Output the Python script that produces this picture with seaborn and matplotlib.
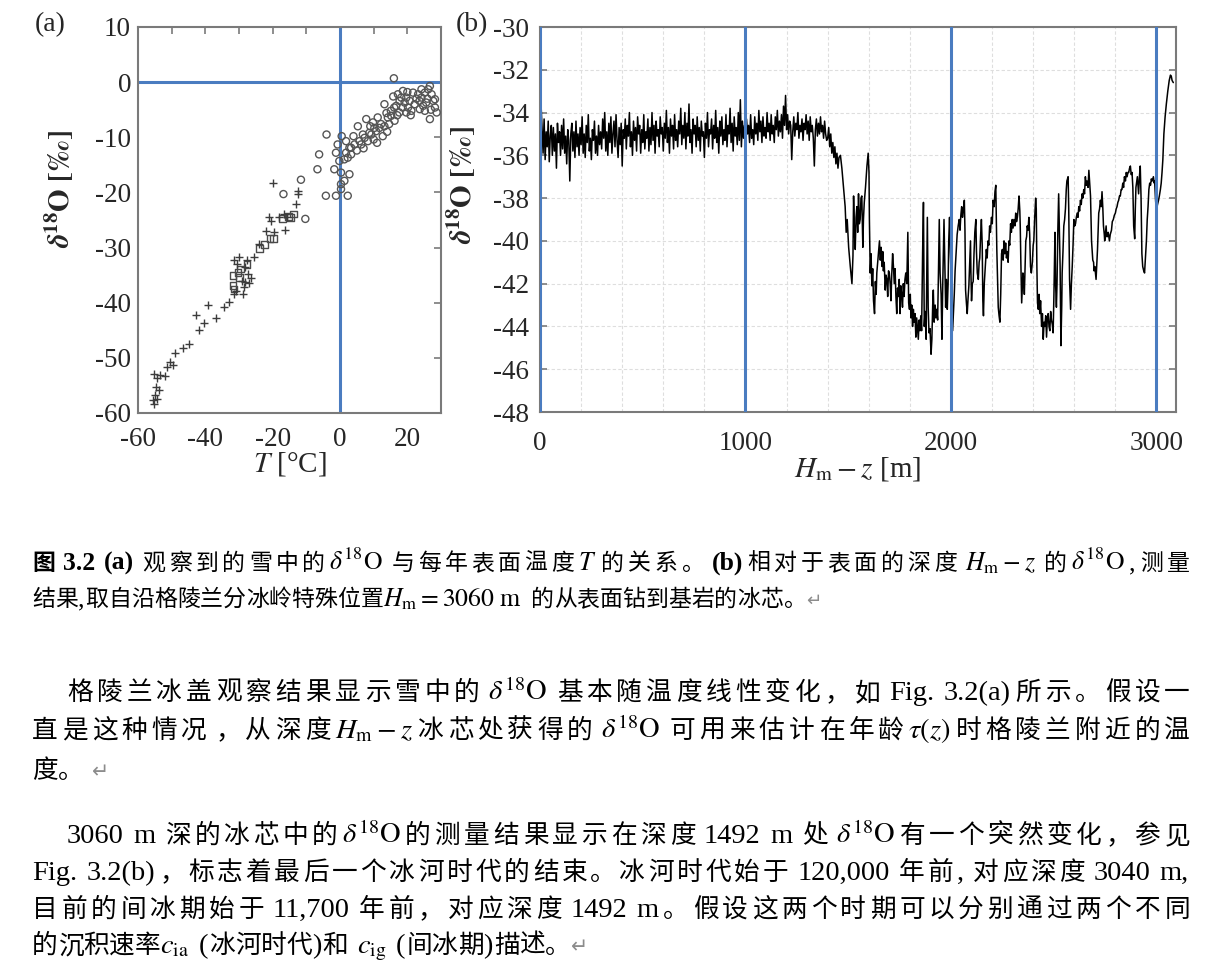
import numpy as np
import pandas as pd
import seaborn as sns
import matplotlib.pyplot as plt
from matplotlib.ticker import MultipleLocator

sns.set_style("white")
plt.rcParams['font.family'] = ['Liberation Serif', 'Noto Sans CJK SC', 'DejaVu Sans']
plt.rcParams['mathtext.fontset'] = 'stix'
plt.rcParams['axes.unicode_minus'] = False

W, H = 1223, 973
BLUE = '#4a7cc0'
GREY = '#7a7a7a'

# ---- panel (a): d18O in snow vs annual surface temperature ----
circle_t = [16.0, 17.2, 18.7, 19.7, 20.7, 21.7, 23.2, 24.2, 25.2, 26.2, 26.7, 27.2, 27.7, 28.2, 28.7,
            26.7, 25.2, 23.7, 22.2, 18.6, 17.6, 16.1, 15.1, 13.2, 14.2, 12.2, 11.2, 10.2, 8.7, 7.8,
            7.3, 5.8, 5.3, 4.3, 2.8, 1.8, 1.3, 2.3, 3.3, 6.3, 8.3, 9.3, 10.7, 11.7, 13.2, 14.6, 16.2,
            15.2, 16.7, 19.2, 20.2, 21.2, 17.7, 19.7, 23.6, 25.6, 28.2, 24.2,
            0.5, -0.7, -1.2, -0.2, 0.3, 1.3, 2.8, -1.7, 0.3, -1.2, 2.3, 0.3, 1.8, 3.3,
            -4.0, -6.2, -6.7, -4.2, -11.6, -16.8, -10.3,
            9.8, 12.7, 14.0, 10.0, 7.0, 5.0, 4.0, 11.0, 18.2, 20.0, 22.7, 24.7, 26.0, 27.0, 15.8,
            17.0, 13.8, 9.0, 6.8, 21.0]
circle_d = [0.7, -2.2, -1.6, -2.8, -3.4, -1.9, -2.2, -2.8, -1.9, -1.3, -0.7, -2.2, -3.4, -4.6, -5.5,
            -6.7, -5.2, -4.9, -4.0, -4.6, -5.5, -4.6, -5.2, -4.0, -6.4, -7.6, -6.4, -8.3, -9.2, -6.7,
            -10.1, -10.7, -8.0, -11.3, -11.9, -12.8, -14.0, -13.7, -13.1, -11.3, -10.7, -9.5, -8.9, -8.3, -8.0, -7.6, -7.0,
            -6.1, -4.3, -3.7, -4.6, -5.2, -3.4, -5.5, -3.4, -3.7, -3.1, -1.3,
            -9.8, -11.3, -12.8, -14.3, -16.4, -17.9, -16.7, -15.8, -19.4, -20.6, -20.6, -18.5, -10.7, -11.9,
            -9.5, -13.1, -15.8, -20.6, -17.7, -20.3, -24.8,
            -7.3, -9.8, -9.0, -10.4, -12.0, -12.4, -9.8, -11.0, -2.8, -1.8, -3.0, -4.3, -3.0, -5.0, -2.6,
            -6.0, -5.6, -8.0, -9.5, -6.0]

cross_t = [-19.8, -12.4, -12.4, -13.0, -16.6, -15.6, -18.1, -20.4, -21.1, -16.4, -19.6, -22.1, -24.1,
           -25.6, -27.6, -30.0, -31.5, -28.1, -27.4, -28.1, -31.0, -28.6, -31.5, -33.0, -34.6, -39.2,
           -42.7, -36.8, -40.3, -41.8, -45.0, -46.5, -49.0, -50.6, -49.6, -51.4, -51.9, -53.4, -54.4,
           -55.2, -54.6, -54.9, -55.4, -55.2, -54.4, -53.9, -30.5, -29.0, -27.0, -28.8, -26.5]
cross_d = [-18.2, -19.7, -20.3, -22.1, -23.9, -24.5, -24.4, -25.1, -24.5, -26.8, -27.2, -27.0, -29.3,
           -31.7, -32.3, -31.7, -32.3, -33.6, -34.8, -36.3, -37.8, -37.2, -38.4, -39.9, -40.7, -40.5,
           -42.2, -42.8, -43.7, -45.0, -47.4, -48.3, -49.2, -50.7, -51.3, -51.6, -53.3, -53.1, -53.7,
           -52.9, -55.2, -56.7, -57.7, -58.4, -57.4, -55.8, -33.0, -36.0, -36.5, -38.5, -35.5]

square_t = [-15.4, -14.6, -13.8, -19.8, -20.8, -22.4, -23.8, -31.8, -29.9, -30.3, -31.8, -31.5, -29.5, -27.6, -17.1]
square_d = [-24.4, -24.5, -23.9, -28.4, -28.4, -29.5, -30.1, -35.1, -35.4, -34.5, -36.9, -37.5, -33.9, -33.1, -24.8]

# ---- panel (b): d18O along the ice core, depth below surface ----
HOLOCENE_STEP = 5  # m between samples of the upper part
holocene_o18 = [
    -36.9, -33.6, -34.8, -35.9, -34.3, -36.2, -34.9, -35.6, -34.4, -36.3, -35.1, -34.6, -36.0, -34.7, -35.8, -35.0, -36.6, -34.5, -35.4, -34.9,
    -36.0, -34.6, -35.7, -34.3, -35.9, -35.1, -36.4, -34.8, -35.3, -37.2, -35.0, -34.5, -35.8, -34.9, -36.1, -34.4, -35.6, -35.0, -36.0, -34.7,
    -35.5, -34.2, -35.9, -35.0, -36.1, -34.6, -35.4, -34.1, -35.8, -35.2, -36.2, -34.8, -35.3, -34.4, -35.9, -35.1, -36.0, -34.6, -35.5, -34.9,
    -35.7, -34.3, -35.2, -34.0, -35.8, -34.9, -36.0, -34.5, -35.4, -34.2, -35.9, -35.0, -34.4, -35.6, -34.1, -35.3, -36.1, -34.7, -35.5, -34.5,
    -36.5, -34.8, -35.2, -34.3, -35.7, -34.6, -35.1, -34.0, -35.6, -34.9, -36.0, -34.4, -35.3, -34.7, -35.8, -34.2, -35.0, -34.6, -35.9, -34.8,
    -35.4, -34.1, -35.7, -34.9, -35.2, -34.3, -35.8, -34.7, -35.5, -34.0, -35.3, -34.6, -35.9, -34.4, -35.1, -34.8, -35.6, -34.2, -35.0, -34.7,
    -35.8, -34.5, -35.2, -33.9, -35.4, -34.7, -35.9, -34.3, -35.1, -34.6, -35.7, -34.1, -35.3, -34.8, -35.6, -34.4, -35.0, -33.8, -35.5, -34.6,
    -35.2, -34.0, -35.7, -34.5, -35.1, -33.6, -35.4, -34.8, -35.9, -34.3, -35.0, -34.6, -35.6, -34.2, -35.3, -34.7, -35.8, -34.4, -35.1, -34.9,
    -36.1, -34.5, -35.2, -34.0, -35.6, -34.8, -35.0, -34.3, -35.7, -34.6, -35.2, -33.9, -35.4, -34.7, -35.9, -34.4, -35.1, -34.2, -35.5, -34.8,
    -35.3, -34.1, -35.6, -34.6, -35.0, -33.8, -35.4, -34.5, -35.8, -34.2, -35.1, -34.7, -35.5, -34.0, -35.3, -33.4, -35.6, -34.4, -35.2, -34.6,
    -35.7, -34.3, -35.0, -34.6, -35.4, -34.1, -35.2, -34.8, -35.5, -34.2, -35.0, -34.5, -35.3, -33.9, -34.9, -34.4, -35.4, -34.2, -35.1, -34.7,
    -35.2, -34.0, -34.9, -34.5, -35.3, -34.1, -35.0, -34.6, -35.4, -34.2, -34.8, -33.9, -35.1, -34.4, -34.9, -34.1, -35.2, -33.7, -34.6, -33.2,
    -34.8, -34.1, -35.0, -34.4, -34.6, -36.2, -34.9, -34.2, -35.1, -34.5, -34.8, -34.0, -35.2, -34.6, -34.9, -34.3, -35.3, -34.5, -34.8, -34.1,
    -35.0, -34.4, -35.3, -34.2, -34.9, -34.6, -35.2, -36.5, -34.8, -34.3, -35.1, -34.5, -35.0, -34.2, -34.9, -34.6, -35.2, -34.4, -35.0, -35.3,
    -35.2, -34.7, -35.6, -35.0, -35.9, -35.4, -36.1, -35.6, -36.4, -35.9, -36.6, -36.1,
]
glacial_depth = [
    1462, 1469, 1477, 1485, 1490, 1495, 1502, 1510, 1518, 1523,
    1526, 1530, 1534, 1538, 1542, 1546, 1550, 1554, 1558, 1562,
    1566, 1571, 1574, 1578, 1584, 1591, 1597, 1601, 1603, 1607,
    1611, 1615, 1619, 1623, 1628, 1632, 1636, 1639, 1645, 1652,
    1656, 1660, 1665, 1668, 1671, 1675, 1680, 1684, 1688, 1692,
    1696, 1700, 1704, 1708, 1712, 1716, 1720, 1724, 1728, 1732,
    1736, 1740, 1744, 1748, 1752, 1756, 1760, 1764, 1768, 1772,
    1776, 1780, 1785, 1790, 1794, 1798, 1802, 1805, 1809, 1813,
    1817, 1821, 1825, 1829, 1833, 1837, 1841, 1845, 1849, 1853,
    1857, 1862, 1866, 1870, 1874, 1879, 1882, 1885, 1889, 1893,
    1898, 1903, 1907, 1911, 1914, 1918, 1923, 1927, 1931, 1935,
    1939, 1943, 1947, 1952, 1956, 1960, 1966, 1970, 1974, 1978,
    1982, 1986, 1989, 1993, 1997, 2001, 2004, 2008, 2012, 2016,
    2020, 2024, 2030, 2035, 2040, 2044, 2048, 2052, 2056, 2060,
    2065, 2068, 2071, 2075, 2079, 2083, 2087, 2091, 2095, 2097,
    2100, 2104, 2108, 2112, 2116, 2121, 2124, 2128, 2133, 2137,
    2140, 2144, 2148, 2152, 2155, 2158, 2162, 2168, 2172, 2176,
    2180, 2184, 2188, 2192, 2197, 2201, 2205, 2210, 2214, 2218,
    2220, 2223, 2227, 2230, 2234, 2238, 2242, 2246, 2250, 2254,
    2258, 2262, 2266, 2270, 2274, 2278, 2282, 2286, 2290, 2294,
    2298, 2302, 2306, 2311, 2315, 2319, 2323, 2327, 2331, 2335,
    2337, 2340, 2344, 2347, 2350, 2354, 2357, 2361, 2364, 2368,
    2371, 2375, 2379, 2383, 2387, 2391, 2396, 2400, 2403, 2407,
    2412, 2415, 2418, 2421, 2425, 2429, 2432, 2436, 2441, 2445,
    2449, 2453, 2457, 2461, 2465, 2469, 2473, 2477, 2481, 2485,
    2489, 2493, 2497, 2501, 2506, 2509, 2513, 2516, 2520, 2524,
    2527, 2531, 2535, 2539, 2541, 2545, 2549, 2553, 2557, 2561,
    2564, 2570, 2573, 2577, 2582, 2586, 2590, 2594, 2598, 2602,
    2606, 2610, 2614, 2618, 2622, 2626, 2630, 2634, 2638, 2642,
    2646, 2650, 2654, 2658, 2662, 2667, 2671, 2675, 2679, 2684,
    2688, 2690, 2694, 2696, 2700, 2706, 2709, 2713, 2716, 2719,
    2723, 2727, 2731, 2735, 2739, 2742, 2746, 2748, 2752, 2755,
    2758, 2761, 2765, 2771, 2775, 2781, 2785, 2790, 2795, 2800,
    2804, 2808, 2812, 2816, 2820, 2824, 2828, 2832, 2836, 2840,
    2844, 2849, 2853, 2857, 2861, 2865, 2869, 2873, 2877, 2881,
    2885, 2889, 2894, 2897, 2900, 2904, 2907, 2910, 2913, 2917,
    2921, 2925, 2929, 2933, 2938, 2942, 2946, 2951, 2955, 2959,
    2963, 2967, 2971, 2975, 2979, 2985, 2989, 2991, 2995, 2999,
    3005, 3010, 3014, 3019, 3023, 3027, 3031, 3036, 3042, 3048,
    3055, 3062, 3068, 3072, 3076, 3082,
]
glacial_o18 = [
    -36.0, -36.6, -37.5, -38.4, -39.6, -39.0, -40.3, -41.2, -42.0, -40.7,
    -37.9, -39.5, -40.4, -38.9, -38.4, -39.6, -37.8, -39.2, -39.0, -38.0,
    -37.9, -40.3, -39.0, -38.2, -37.5, -36.5, -35.9, -36.8, -39.0, -41.5,
    -40.6, -42.1, -41.3, -42.8, -43.4, -41.9, -42.5, -41.5, -40.8, -40.0,
    -40.9, -40.3, -41.2, -40.5, -41.4, -41.0, -42.3, -41.6, -41.8, -42.6,
    -41.4, -41.5, -42.0, -42.8, -41.5, -40.6, -41.2, -42.0, -41.3, -42.6,
    -43.4, -42.2, -42.6, -41.8, -43.4, -42.1, -42.5, -43.1, -42.0, -42.6,
    -41.8, -41.5, -42.0, -39.6, -42.9, -43.2, -42.5, -43.6, -43.0, -44.0,
    -43.2, -43.8, -43.4, -44.5, -43.6, -44.1, -44.6, -43.7, -44.2, -43.5,
    -44.2, -40.5, -38.2, -44.0, -43.3, -44.6, -41.5, -38.9, -43.1, -44.3,
    -44.1, -45.3, -44.6, -43.0, -42.3, -43.8, -43.0, -43.6, -43.2, -43.7,
    -41.5, -39.0, -41.5, -42.5, -44.6, -42.0, -39.0, -41.0, -43.1, -41.8,
    -43.2, -42.0, -40.0, -38.9, -40.5, -41.8, -43.0, -44.2, -43.4, -42.5,
    -41.4, -40.7, -39.7, -39.3, -39.0, -39.5, -38.8, -38.4, -38.9, -38.6,
    -38.1, -39.5, -42.3, -42.9, -43.4, -42.7, -42.1, -41.0, -40.0, -41.5,
    -42.8, -42.0, -41.9, -40.6, -39.6, -39.0, -40.5, -41.5, -41.8, -41.0,
    -40.8, -39.8, -39.0, -40.2, -42.8, -43.5, -42.0, -41.0, -40.4, -40.8,
    -40.0, -40.2, -39.3, -39.6, -38.9, -39.2, -38.1, -38.4, -37.7, -37.4,
    -38.5, -40.4, -42.0, -43.1, -43.5, -43.8, -42.5, -40.6, -40.4, -40.9,
    -40.0, -40.6, -40.1, -40.8, -40.5, -41.0, -40.0, -40.2, -39.2, -39.6,
    -39.0, -39.4, -39.0, -39.3, -38.7, -39.1, -38.9, -38.5, -37.9, -38.6,
    -39.3, -41.0, -42.9, -42.2, -41.5, -41.8, -42.5, -41.0, -40.0, -39.8,
    -39.3, -39.5, -38.9, -39.7, -41.2, -41.5, -41.0, -40.2, -40.0, -39.0,
    -38.0, -38.5, -41.2, -42.9, -43.2, -42.5, -43.4, -42.8, -44.0, -43.4,
    -44.6, -43.8, -44.0, -43.5, -44.5, -43.6, -43.4, -44.0, -44.2, -43.3,
    -43.7, -43.9, -44.3, -42.5, -39.6, -42.0, -43.1, -42.0, -39.5, -37.8,
    -39.3, -41.2, -44.9, -43.0, -41.5, -40.5, -39.3, -39.0, -38.5, -37.6,
    -37.2, -37.0, -38.5, -41.8, -43.2, -42.0, -41.2, -40.2, -39.0, -39.3,
    -39.2, -38.9, -38.7, -38.9, -38.4, -38.6, -38.1, -38.3, -37.8, -38.0,
    -37.6, -37.8, -37.0, -37.4, -37.2, -37.5, -36.7, -37.3, -37.9, -40.0,
    -40.6, -40.9, -41.0, -41.4, -41.2, -41.8, -41.2, -40.4, -39.5, -38.7,
    -38.5, -38.1, -38.4, -37.7, -38.5, -39.3, -39.7, -40.0, -39.6, -39.3,
    -39.8, -39.8, -39.6, -40.0, -39.7, -39.5, -39.1, -39.0, -38.8, -38.7,
    -38.5, -38.4, -38.2, -38.1, -37.9, -37.9, -37.6, -37.6, -37.3, -37.5,
    -37.0, -37.2, -36.8, -37.0, -36.8, -36.8, -36.6, -36.5, -36.9, -36.8,
    -37.5, -39.3, -39.9, -38.5, -37.5, -37.2, -37.0, -37.4, -37.8, -37.0,
    -36.5, -38.0, -40.6, -41.2, -41.4, -41.5, -40.8, -40.0, -39.0, -38.4,
    -37.6, -37.3, -37.4, -37.1, -37.2, -37.0, -37.3, -37.2, -38.0, -38.6,
    -38.3, -38.1, -37.9, -37.6, -37.3, -36.8, -36.2, -35.0, -34.2, -33.6,
    -33.0, -32.5, -32.25, -32.3, -32.5, -32.6,
]

# ---- text of the page ----
D18O = r'$\delta^{18}\mathrm{O}$'
HMZ = r'$H_\mathrm{m}-z$'
caption = [
    ([('图 3.2 (a)', 'bold'), (' 观察到的雪中的', 'txt'), (D18O, 'math'), (' 与每年表面温度', 'txt'),
      (r'$T$', 'math'), ('的关系。 ', 'txt'), ('(b)', 'bold'), ('相对于表面的深度 ', 'txt'),
      (HMZ, 'math'), (' 的', 'txt'), (D18O, 'math'), (',测量', 'txt')], 570, 32, 1190),
    ([('结果,取自沿格陵兰分冰岭特殊位置', 'txt'), (r'$H_\mathrm{m}=3060\ \mathrm{m}$', 'math'),
      (' 的从表面钻到基岩的冰芯。', 'txt'), ('↵', 'mark')], 606, 32, None),
]
body = [
    ([('格陵兰冰盖观察结果显示雪中的 ', 'txt'), (D18O, 'math'),
      (' 基本随温度线性变化，如 Fig. 3.2(a)所示。假设一', 'txt')], 700, 67, 1190),
    ([('直是这种情况 ，从深度', 'txt'), (HMZ, 'math'), ('冰芯处获得的 ', 'txt'), (D18O, 'math'),
      (' 可用来估计在年龄', 'txt'), (r'$\tau(z)$', 'math'), ('时格陵兰附近的温', 'txt')], 738, 32, 1190),
    ([('度。 ', 'txt'), ('↵', 'mark')], 778, 32, None),
    ([('3060 m 深的冰芯中的', 'txt'), (D18O, 'math'), ('的测量结果显示在深度 1492 m 处 ', 'txt'),
      (D18O, 'math'), ('有一个突然变化，参见', 'txt')], 843, 67, 1190),
    ([('Fig. 3.2(b)，标志着最后一个冰河时代的结束。冰河时代始于 120,000 年前, 对应深度 3040 m,', 'txt')],
     880, 32, 1190),
    ([('目前的间冰期始于 11,700 年前，对应深度 1492 m。假设这两个时期可以分别通过两个不同', 'txt')],
     917, 32, 1190),
    ([('的沉积速率', 'txt'), (r'$c_\mathrm{ia}$', 'math'), (' (冰河时代)和 ', 'txt'),
      (r'$c_\mathrm{ig}$', 'math'), (' (间冰期)描述。', 'txt'), ('↵', 'mark')], 953, 32, None),
]

fig = plt.figure(figsize=(W / 100, H / 100), dpi=100)
fig.patch.set_facecolor('white')


def style_spines(ax):
    for sp in ax.spines.values():
        sp.set_color(GREY)
        sp.set_linewidth(1.5)
        sp.set_visible(True)


# panel (a)
ax_a = fig.add_axes([138 / W, 1 - 413 / H, 303 / W, 386 / H])
ax_a.axhline(0, color=BLUE, lw=2.2, zorder=1)
ax_a.axvline(0, color=BLUE, lw=2.2, zorder=1)
sns.scatterplot(x=circle_t, y=circle_d, marker='o', s=26, facecolor='none',
                edgecolor='#555555', linewidth=1.0, ax=ax_a, zorder=3)
sns.scatterplot(x=square_t, y=square_d, marker='s', s=24, facecolor='none',
                edgecolor='#4a4a4a', linewidth=1.0, ax=ax_a, zorder=3)
sns.scatterplot(x=cross_t, y=cross_d, marker='+', s=36, color='#3c3c3c',
                linewidth=1.0, ax=ax_a, zorder=3)
ax_a.set_xlim(-60, 30)
ax_a.set_ylim(-60, 10)
ax_a.set_xticks([-60, -40, -20, 0, 20])
ax_a.xaxis.set_minor_locator(MultipleLocator(10))
ax_a.set_yticks(np.arange(-60, 11, 10))
ax_a.tick_params(which='both', direction='in', top=True, right=True, length=5,
                 color=GREY, width=1.2, labelsize=19.5)
ax_a.tick_params(axis='x', pad=10)
ax_a.tick_params(axis='y', pad=5)
ax_a.set_xlabel(r'$T$ [°C]', fontsize=21, labelpad=-1)
ax_a.set_ylabel(r'$\mathbfit{\delta}^{\mathbf{18}}\mathbf{O}\ \mathbf{[‰]}$', fontsize=21)
ax_a.yaxis.set_label_coords(-0.205, 0.58)
style_spines(ax_a)

# panel (b)
depth = list(np.arange(len(holocene_o18)) * HOLOCENE_STEP) + glacial_depth
o18 = holocene_o18 + glacial_o18
core = pd.DataFrame({'depth': depth, 'o18': o18})
ax_b = fig.add_axes([540 / W, 1 - 412 / H, 636 / W, 385 / H])
sns.lineplot(data=core, x='depth', y='o18', estimator=None, sort=False,
             color='black', lw=1.1, ax=ax_b, zorder=3)
for xv in [0, 1000, 2000, 3000]:
    ax_b.axvline(xv, color=BLUE, lw=2.2, zorder=4)
ax_b.set_xlim(0, 3095)
ax_b.set_ylim(-48, -30)
ax_b.set_xticks([0, 1000, 2000, 3000])
ax_b.xaxis.set_minor_locator(MultipleLocator(200))
ax_b.set_yticks(np.arange(-48, -29, 2))
ax_b.grid(which='both', color='#dedede', lw=0.8, ls=(0, (3, 2)), zorder=0)
ax_b.tick_params(axis='y', which='major', direction='in', left=True, right=True,
                 length=5, color=GREY, width=1.2, labelsize=19.5, pad=8)
ax_b.tick_params(axis='x', which='both', length=0, labelsize=19.5, pad=14)
ax_b.set_xlabel(HMZ + ' [m]', fontsize=21, labelpad=-1)
ax_b.set_ylabel(r'$\mathbfit{\delta}^{\mathbf{18}}\mathbf{O}\ \mathbf{[‰]}$', fontsize=21)
ax_b.yaxis.set_label_coords(-0.098, 0.59)
style_spines(ax_b)

fig.text(50 / W, 1 - 25 / H, '(a)', fontsize=20, ha='center', va='center')
fig.text(472 / W, 1 - 25 / H, '(b)', fontsize=20, ha='center', va='center')

# page text, laid out piece by piece so CJK and math can mix
renderer = fig.canvas.get_renderer()


def split_units(tokens):
    units = []
    for s, kind in tokens:
        if kind in ('math', 'mark'):
            units.append((s, kind))
            continue
        run = ''
        for ch in s:
            if ch == ' ' or ord(ch) >= 0x2E80:
                if run:
                    units.append((run, kind))
                    run = ''
                units.append((ch, 'space' if ch == ' ' else kind + '_cjk'))
            else:
                run += ch
        if run:
            units.append((run, kind))
    return units


def draw_line(tokens, y, x0, x1, size, lat):
    # size: CJK point size, lat: Latin / math point size (the page uses wider Latin glyphs)
    em = size * 100 / 72
    units = split_units(tokens)
    arts, widths = [], []
    for s, kind in units:
        if kind == 'space':
            arts.append(None)
            widths.append(0.3 * lat * 100 / 72)
            continue
        fs = size if kind.endswith('_cjk') else lat
        kw = dict(fontsize=fs, va='baseline', ha='left', color='black')
        if kind.startswith('bold'):
            kw['fontweight'] = 'bold'
        if kind == 'mark':
            kw.update(color='#8c8c8c', family=['DejaVu Sans'], fontsize=size * 0.8)
        t = fig.text(0, 1 - y / H, s, **kw)
        arts.append(t)
        if kind.endswith('_cjk'):
            widths.append(em)
        else:
            widths.append(t.get_window_extent(renderer).width + 1)
    # extra justification space only between two non-space pieces
    slots = [i for i in range(len(units) - 1)
             if units[i][1] != 'space' and units[i + 1][1] != 'space']
    gap = 0
    if x1 is not None and slots:
        gap = (x1 - x0 - sum(widths)) / len(slots)
    x = x0
    for i, (t, w) in enumerate(zip(arts, widths)):
        if t is not None:
            t.set_x(x / W)
        x += w + (gap if i in slots else 0)


for tokens, y, x0, x1 in caption:
    draw_line(tokens, y, x0, x1, 16.5, 18.5)
for tokens, y, x0, x1 in body:
    draw_line(tokens, y, x0, x1, 18.5, 20.5)

fig.savefig('out.png', dpi=100, facecolor='white')
